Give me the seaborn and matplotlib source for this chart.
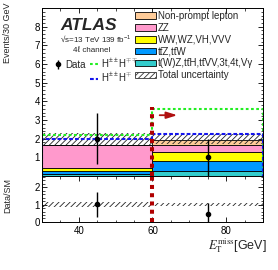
import pandas as pd
import seaborn as sns
import matplotlib.pyplot as plt
from matplotlib.patches import Patch
from matplotlib.lines import Line2D
from matplotlib.ticker import MultipleLocator, FixedLocator

# binning in ETmiss [GeV]
bin_edges = [30, 60, 90]
bin_centers = [45, 75]

# background stack (top -> bottom)
processes = ["Non-prompt lepton", "ZZ", "WW,WZ,VH,VVV",
             "tt\u0304Z,tt\u0304W",
             "t(W)Z,tt\u0304H,tt\u0304VV,3t,4t,V\u03b3"]
colors = ["#ffcc99", "#ff99cc", "#ffff00", "#0099ff", "#33cccc"]
nonprompt = [0.0, 0.27]
zz = [1.20, 0.40]
multiboson = [0.18, 0.50]
ttv = [0.17, 0.52]
other = [0.10, 0.26]

# total uncertainty band
unc_lo = [1.65, 1.72]
unc_hi = [2.28, 2.24]

# signals
sig_hpphmm = [2.22, 3.57]
sig_hpphm = [1.97, 2.25]

# data
data_y = [2.0, 1.0]
data_err_lo = [1.38, 1.0]
data_err_hi = [1.36, 0.97]

# ratio panel
ratio_y = [1.01, 0.46]
ratio_err_lo = [0.71, 0.46]
ratio_err_hi = [0.69, 0.61]
ratio_unc_lo = [0.87, 0.90]
ratio_unc_hi = [1.13, 1.10]

cut_value = 60
cut_height = 3.7

sns.set_style("ticks")
plt.rcParams["font.family"] = ["Liberation Sans", "DejaVu Sans"]
plt.rcParams.update({
    "mathtext.fontset": "custom",
    "mathtext.rm": "Liberation Sans",
    "mathtext.it": "Liberation Sans:italic",
    "mathtext.bf": "Liberation Sans:bold",
    "hatch.linewidth": 0.6,
    "hatch.color": "#222222",
    "axes.edgecolor": "black",
    "axes.linewidth": 0.7,
    "xtick.direction": "in", "ytick.direction": "in",
    "xtick.top": True, "ytick.right": True,
    "xtick.minor.visible": True, "ytick.minor.visible": True,
    "xtick.major.size": 3.6, "ytick.major.size": 3.6,
    "xtick.minor.size": 1.8, "ytick.minor.size": 1.8,
    "xtick.major.width": 0.6, "ytick.major.width": 0.6,
    "xtick.minor.width": 0.5, "ytick.minor.width": 0.5,
    "xtick.color": "black", "ytick.color": "black",
    "xtick.labelsize": 7, "ytick.labelsize": 7,
    "xtick.major.pad": 3, "ytick.major.pad": 1.5,
})

fig = plt.figure(figsize=(2.78, 2.70), dpi=100)
ax = fig.add_axes([0.151, 0.348, 0.795, 0.622])
axr = fig.add_axes([0.151, 0.178, 0.795, 0.170], sharex=ax)

# stacked backgrounds
values = [nonprompt, zz, multiboson, ttv, other]
rows = []
for proc, vals in zip(processes, values):
    for c, v in zip(bin_centers, vals):
        rows.append({"met": c, "events": v, "process": proc})
df = pd.DataFrame(rows)
sns.histplot(data=df, x="met", weights="events", hue="process", hue_order=processes,
             multiple="stack", bins=bin_edges, palette=colors, alpha=1,
             edgecolor="black", linewidth=0.6, legend=False, ax=ax)

hatch = "//////"
ax.stairs(unc_hi, bin_edges, baseline=unc_lo, fill=True, facecolor="none",
          edgecolor="#222222", linewidth=0, hatch=hatch)

green_ls = (0, (1.3, 1.2))
blue_ls = (0, (1.8, 1.0))
ax.stairs(sig_hpphmm, bin_edges, color="#22ee22", lw=1.5, ls=green_ls)
ax.stairs(sig_hpphm, bin_edges, color="#1515ee", lw=1.5, ls=blue_ls)

data_eb = ax.errorbar(bin_centers, data_y, yerr=[data_err_lo, data_err_hi], fmt="o",
                      color="black", ms=3, elinewidth=1.0, capsize=0)

cut_kw = dict(color="#b00000", lw=2.9, ls=(0, (1, 1.05)), dash_capstyle="butt")
ax.plot([cut_value, cut_value], [0, cut_height], **cut_kw)
ax.annotate("", xy=(67.5, 3.26), xytext=(61.2, 3.26),
            arrowprops=dict(arrowstyle="-|>,head_length=0.8,head_width=0.25",
                            color="#b01010", lw=1.3, mutation_scale=8))

ax.set_xlim(30, 90)
ax.set_ylim(0, 9)
ax.yaxis.set_major_locator(FixedLocator([1, 2, 3, 4, 5, 6, 7, 8]))
ax.yaxis.set_minor_locator(MultipleLocator(0.2))
ax.xaxis.set_major_locator(MultipleLocator(20))
ax.xaxis.set_minor_locator(MultipleLocator(5))
ax.tick_params(axis="x", labelbottom=False)
ax.set_xlabel("")
ax.set_ylabel("")

# labels
ax.text(0.081, 0.869, "ATLAS", transform=ax.transAxes, fontsize=12.5,
        fontweight="bold", fontstyle="italic", va="baseline")
ax.text(0.081, 0.80, "\u221as=13 TeV 139 fb$^{-1}$", transform=ax.transAxes,
        fontsize=5.8, va="baseline")
ax.text(0.224, 0.738, "4\u2113 channel", transform=ax.transAxes,
        fontsize=5.8, va="baseline", ha="center")

# legends
blank = Line2D([], [], color="none")
h_green = Line2D([], [], color="#22ee22", lw=1.5, ls=green_ls)
h_blue = Line2D([], [], color="#1515ee", lw=1.5, ls=blue_ls)
leg1 = ax.legend([data_eb, blank, h_green, h_blue],
                 ["Data", "", r"H$^{\pm\pm}$H$^{\mp\mp}$", r"H$^{\pm\pm}$H$^{\mp}$"],
                 ncol=2, loc="upper left", bbox_to_anchor=(0.055, 0.71),
                 frameon=False, fontsize=7, handlelength=0.8, handletextpad=0.3,
                 columnspacing=0.5, labelspacing=0.15, borderpad=0, borderaxespad=0)
ax.add_artist(leg1)

patch_handles = [Patch(facecolor=c, edgecolor="black", lw=0.6) for c in colors]
patch_handles.append(Patch(facecolor="white", edgecolor="#333333", lw=0.6, hatch=hatch))
ax.legend(patch_handles, processes + ["Total uncertainty"], loc="upper left",
          bbox_to_anchor=(0.42, 0.985), frameon=False, fontsize=7,
          handlelength=2.2, handleheight=0.7, handletextpad=0.2,
          labelspacing=0.2, borderpad=0, borderaxespad=0)

# ratio panel
axr.stairs(ratio_unc_hi, bin_edges, baseline=ratio_unc_lo, fill=True, facecolor="none",
           edgecolor="#222222", linewidth=0, hatch=hatch)
axr.errorbar(bin_centers, ratio_y, yerr=[ratio_err_lo, ratio_err_hi], fmt="o",
             color="black", ms=3, elinewidth=1.0, capsize=0)
axr.axvline(cut_value, **cut_kw)
axr.set_ylim(0, 2.65)
axr.yaxis.set_major_locator(FixedLocator([0, 1, 2]))
axr.yaxis.set_minor_locator(MultipleLocator(0.2))
axr.set_xlim(30, 90)
axr.set_ylabel("")

fig.text(0.027, 0.99, "Events/30 GeV", rotation=90, ha="center", va="top", fontsize=6.5)
fig.text(0.027, 1 - 178 / 270, "Data/SM", rotation=90, ha="center", va="top", fontsize=6.5)
fig.text(267 / 278, 1 - 246 / 270, r"$E_{\mathrm{T}}^{\mathrm{miss}}$[GeV]",
         ha="right", va="center", fontsize=9, math_fontfamily="stix")

fig.savefig("out.png", dpi=100)
